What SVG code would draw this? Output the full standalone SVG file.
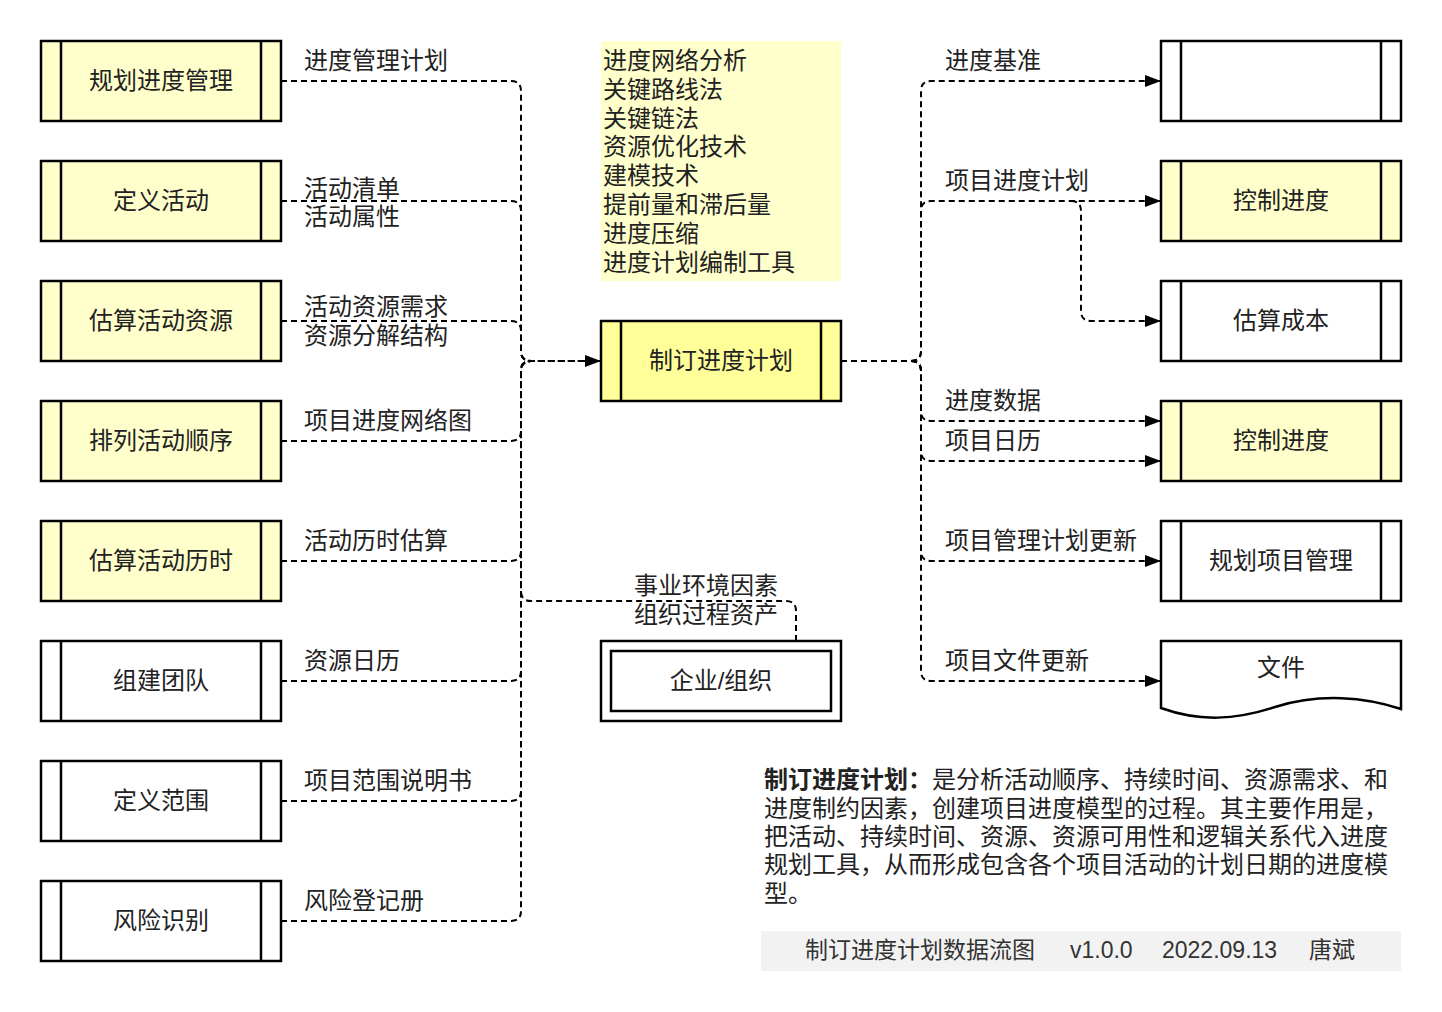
<svg xmlns="http://www.w3.org/2000/svg" width="1442" height="1012" viewBox="0 0 1442 1012">
<style>
text{font-family:"Liberation Sans","Noto Sans CJK SC",sans-serif;font-size:24px;fill:#222;}
.c{text-anchor:middle;dominant-baseline:central;}
.l{dominant-baseline:central;}
.box{stroke:#000;stroke-width:2.5;}
.y{fill:#FFFFCC;}
.yy{fill:#FFFF99;}
.w{fill:#FFFFFF;}
.edge{fill:none;stroke:#000;stroke-width:2;stroke-dasharray:6 4;}
</style>
<defs>
<marker id="arr" markerWidth="16" markerHeight="12" refX="16" refY="6" orient="auto" markerUnits="userSpaceOnUse">
<path d="M0,0 L16,6 L0,12 Z" fill="#000"/>
</marker>
</defs>
<rect width="1442" height="1012" fill="#fff"/>

<g id="connectors">
<path class="edge" d="M281,81 H511 Q521,81 521,91 V351 Q521,361 531,361 H601" marker-end="url(#arr)"/>
<path class="edge" d="M281,201 H511 Q521,201 521,211 V351 Q521,361 531,361 H601"/>
<path class="edge" d="M281,321 H511 Q521,321 521,331 V351 Q521,361 531,361 H601"/>
<path class="edge" d="M281,441 H511 Q521,441 521,431 V371 Q521,361 531,361 H601"/>
<path class="edge" d="M281,561 H511 Q521,561 521,551 V371 Q521,361 531,361 H601"/>
<path class="edge" d="M281,681 H511 Q521,681 521,671 V371 Q521,361 531,361 H601"/>
<path class="edge" d="M281,801 H511 Q521,801 521,791 V371 Q521,361 531,361 H601"/>
<path class="edge" d="M281,921 H511 Q521,921 521,911 V371 Q521,361 531,361 H601"/>
<path class="edge" d="M796,641 V611 Q796,601 786,601 H531 Q521,601 521,591 V371 Q521,361 531,361 H601"/>
<path class="edge" d="M841,361 H911 Q921,361 921,351 V91 Q921,81 931,81 H1161" marker-end="url(#arr)"/>
<path class="edge" d="M841,361 H911 Q921,361 921,351 V211 Q921,201 931,201 H1161" marker-end="url(#arr)"/>
<path class="edge" d="M1071,201 Q1081,201 1081,211 V311 Q1081,321 1091,321 H1161" marker-end="url(#arr)"/>
<path class="edge" d="M841,361 H911 Q921,361 921,371 V411 Q921,421 931,421 H1161" marker-end="url(#arr)"/>
<path class="edge" d="M841,361 H911 Q921,361 921,371 V451 Q921,461 931,461 H1161" marker-end="url(#arr)"/>
<path class="edge" d="M841,361 H911 Q921,361 921,371 V551 Q921,561 931,561 H1161" marker-end="url(#arr)"/>
<path class="edge" d="M841,361 H911 Q921,361 921,371 V671 Q921,681 931,681 H1161" marker-end="url(#arr)"/>
</g>

<g id="labels">
<text class="l" x="304" y="60">进度管理计划</text>
<text class="l" x="304" y="188">活动清单</text>
<text class="l" x="304" y="216">活动属性</text>
<text class="l" x="304" y="306">活动资源需求</text>
<text class="l" x="304" y="335">资源分解结构</text>
<text class="l" x="304" y="420">项目进度网络图</text>
<text class="l" x="304" y="540">活动历时估算</text>
<text class="l" x="304" y="660">资源日历</text>
<text class="l" x="304" y="780">项目范围说明书</text>
<text class="l" x="304" y="900">风险登记册</text>
<text class="c" x="706" y="585">事业环境因素</text>
<text class="c" x="706" y="614">组织过程资产</text>
<text class="l" x="945" y="60">进度基准</text>
<text class="l" x="945" y="180">项目进度计划</text>
<text class="l" x="945" y="400">进度数据</text>
<text class="l" x="945" y="440">项目日历</text>
<text class="l" x="945" y="540">项目管理计划更新</text>
<text class="l" x="945" y="660">项目文件更新</text>
</g>

<g id="n1"><rect class="box y" x="41" y="41" width="240" height="80"/><path class="box" d="M61,41V121M261,41V121"/><text class="c" x="161" y="80">规划进度管理</text></g>
<g id="n2"><rect class="box y" x="41" y="161" width="240" height="80"/><path class="box" d="M61,161V241M261,161V241"/><text class="c" x="161" y="200">定义活动</text></g>
<g id="n3"><rect class="box y" x="41" y="281" width="240" height="80"/><path class="box" d="M61,281V361M261,281V361"/><text class="c" x="161" y="320">估算活动资源</text></g>
<g id="n4"><rect class="box y" x="41" y="401" width="240" height="80"/><path class="box" d="M61,401V481M261,401V481"/><text class="c" x="161" y="440">排列活动顺序</text></g>
<g id="n5"><rect class="box y" x="41" y="521" width="240" height="80"/><path class="box" d="M61,521V601M261,521V601"/><text class="c" x="161" y="560">估算活动历时</text></g>
<g id="n6"><rect class="box w" x="41" y="641" width="240" height="80"/><path class="box" d="M61,641V721M261,641V721"/><text class="c" x="161" y="680">组建团队</text></g>
<g id="n7"><rect class="box w" x="41" y="761" width="240" height="80"/><path class="box" d="M61,761V841M261,761V841"/><text class="c" x="161" y="800">定义范围</text></g>
<g id="n8"><rect class="box w" x="41" y="881" width="240" height="80"/><path class="box" d="M61,881V961M261,881V961"/><text class="c" x="161" y="920">风险识别</text></g>

<g id="tools">
<rect x="601" y="41" width="240" height="240" fill="#FFFFCC"/>
<text class="l" x="603" y="60">进度网络分析</text>
<text class="l" x="603" y="89">关键路线法</text>
<text class="l" x="603" y="118">关键链法</text>
<text class="l" x="603" y="146">资源优化技术</text>
<text class="l" x="603" y="175">建模技术</text>
<text class="l" x="603" y="204">提前量和滞后量</text>
<text class="l" x="603" y="233">进度压缩</text>
<text class="l" x="603" y="262">进度计划编制工具</text>
</g>

<g id="main"><rect class="box yy" x="601" y="321" width="240" height="80"/><path class="box" d="M621,321V401M821,321V401"/><text class="c" x="721" y="360">制订进度计划</text></g>

<g id="org"><rect class="box w" x="601" y="641" width="240" height="80"/><rect class="box w" x="611" y="651" width="220" height="60"/><text class="c" x="721" y="680">企业/组织</text></g>

<g id="r1"><rect class="box w" x="1161" y="41" width="240" height="80"/><path class="box" d="M1181,41V121M1381,41V121"/></g>
<g id="r2"><rect class="box y" x="1161" y="161" width="240" height="80"/><path class="box" d="M1181,161V241M1381,161V241"/><text class="c" x="1281" y="200">控制进度</text></g>
<g id="r3"><rect class="box w" x="1161" y="281" width="240" height="80"/><path class="box" d="M1181,281V361M1381,281V361"/><text class="c" x="1281" y="320">估算成本</text></g>
<g id="r4"><rect class="box y" x="1161" y="401" width="240" height="80"/><path class="box" d="M1181,401V481M1381,401V481"/><text class="c" x="1281" y="440">控制进度</text></g>
<g id="r5"><rect class="box w" x="1161" y="521" width="240" height="80"/><path class="box" d="M1181,521V601M1381,521V601"/><text class="c" x="1281" y="560">规划项目管理</text></g>
<g id="r6"><path class="box w" d="M1161,641 H1401 V709 C1365,697 1320,693 1275,707 C1235,720 1200,722 1161,708 Z"/><text class="c" x="1281" y="667">文件</text></g>

<g id="desc">
<text x="764" y="788"><tspan font-weight="bold">制订进度计划：</tspan>是分析活动顺序、持续时间、资源需求、和</text>
<text x="764" y="817">进度制约因素，创建项目进度模型的过程。其主要作用是，</text>
<text x="764" y="845">把活动、持续时间、资源、资源可用性和逻辑关系代入进度</text>
<text x="764" y="873">规划工具，从而形成包含各个项目活动的计划日期的进度模</text>
<text x="764" y="902">型。</text>
</g>

<g id="footer">
<rect x="761" y="931" width="640" height="40" fill="#F2F2F2"/>
<text class="l" y="950" style="font-size:23px;fill:#333"><tspan x="805">制订进度计划数据流图</tspan><tspan x="1070">v1.0.0</tspan><tspan x="1162">2022.09.13</tspan><tspan x="1309">唐斌</tspan></text>
</g>
</svg>
